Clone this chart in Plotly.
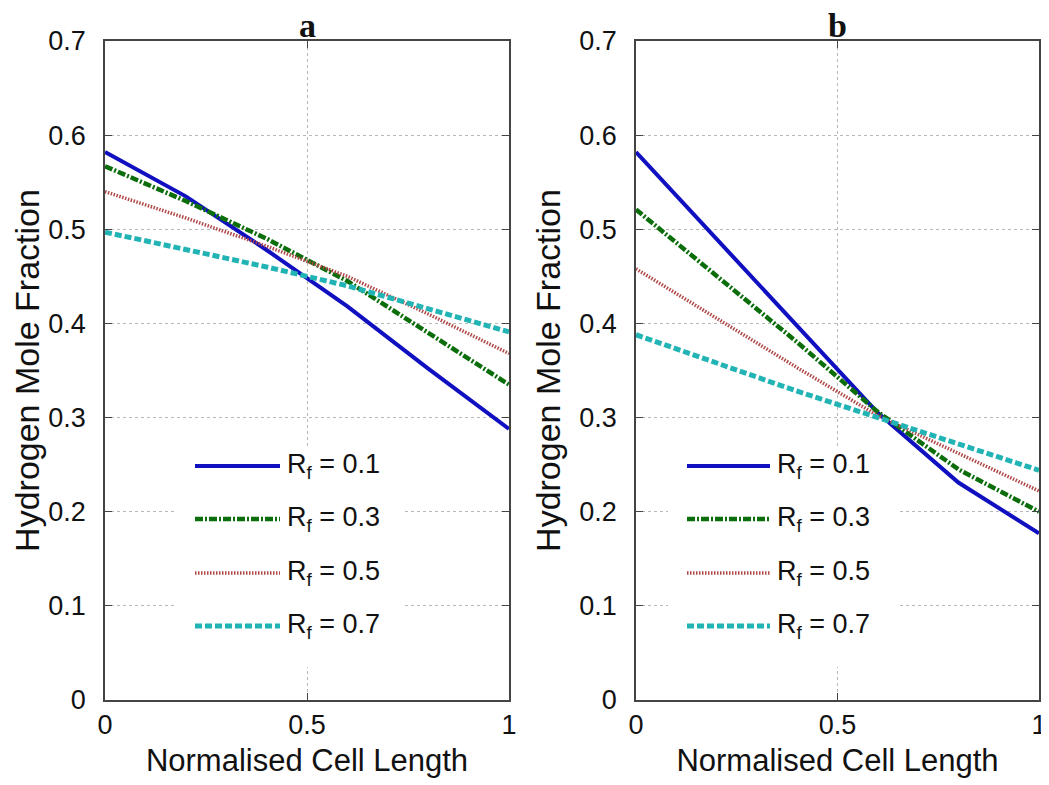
import plotly.graph_objects as go

# normalised cell length sample points
x_pos = [0, 0.2, 0.4, 0.6, 0.8, 1.0]

rf_values = ["0.1", "0.3", "0.5", "0.7"]

# panel a: hydrogen mole fraction
a_rf01 = [0.582, 0.535, 0.478, 0.418, 0.352, 0.288]
a_rf03 = [0.567, 0.530, 0.490, 0.445, 0.390, 0.335]
a_rf05 = [0.540, 0.512, 0.482, 0.450, 0.410, 0.368]
a_rf07 = [0.497, 0.479, 0.460, 0.440, 0.416, 0.391]

# panel b: hydrogen mole fraction
b_rf01 = [0.582, 0.490, 0.398, 0.305, 0.231, 0.177]
b_rf03 = [0.521, 0.451, 0.380, 0.306, 0.245, 0.200]
b_rf05 = [0.458, 0.405, 0.353, 0.302, 0.262, 0.222]
b_rf07 = [0.388, 0.358, 0.328, 0.300, 0.272, 0.244]

y_ticks = [0, 0.1, 0.2, 0.3, 0.4, 0.5, 0.6, 0.7]
x_ticks = [0, 0.5, 1]

styles = [
    dict(color="#1010c0", width=4, dash="solid"),
    dict(color="#0b6e0b", width=4.5, dash="8px,2px,2px,2px"),
    dict(color="#b04848", width=3.5, dash="1.5px,1.5px"),
    dict(color="#22b4b4", width=5, dash="7px,3px"),
]

# page body has an 8px margin, so the figure sits 8px in from the window edge
OFF = 8
W, H = 1049 - OFF, 785 - OFF


def px(v):
    return (v - OFF) / W


def py(v):
    return 1 - (v - OFF) / H


fig = go.Figure()

panels = [("x", "y", [a_rf01, a_rf03, a_rf05, a_rf07]),
          ("x2", "y2", [b_rf01, b_rf03, b_rf05, b_rf07])]
for xa, ya, series in panels:
    for vals, st, rf in zip(series, styles, rf_values):
        fig.add_trace(go.Scatter(
            x=x_pos, y=vals, mode="lines", xaxis=xa, yaxis=ya,
            line=st, name="R<sub>f</sub> = " + rf, showlegend=False,
        ))

axis_common = dict(
    showline=True, linecolor="#444", linewidth=1.5, mirror="ticks",
    ticks="inside", ticklen=7, tickcolor="#444", automargin=False,
    showgrid=True, gridcolor="#b8b8b8", griddash="dot", gridwidth=1,
    zeroline=False, tickfont=dict(family="Liberation Sans", size=27, color="#111"),
)
xaxis_style = dict(axis_common, range=[0, 1], tickvals=x_ticks, ticktext=["0", "0.5", "1"],
                   title=dict(text="Normalised Cell Length", standoff=10,
                              font=dict(family="Liberation Sans", size=31, color="#111")))
yaxis_style = dict(axis_common, range=[0, 0.7], tickvals=y_ticks,
                   ticktext=["0", "0.1", "0.2", "0.3", "0.4", "0.5", "0.6", "0.7"],
                   ticklabelstandoff=12,
                   title=dict(text="Hydrogen Mole Fraction", standoff=8,
                              font=dict(family="Liberation Sans", size=34, color="#111")))

ydom = [py(700), py(41)]
fig.update_layout(
    width=W, height=H, margin=dict(l=0, r=0, t=0, b=0, autoexpand=False),
    paper_bgcolor="white", plot_bgcolor="white",
    xaxis=dict(xaxis_style, domain=[px(105), px(509)], anchor="y"),
    yaxis=dict(yaxis_style, domain=ydom, anchor="x"),
    xaxis2=dict(xaxis_style, domain=[px(636), px(1039)], anchor="y2"),
    yaxis2=dict(yaxis_style, domain=ydom, anchor="x2"),
)

# panel letters
for letter, cx in [("a", (105 + 509) / 2), ("b", (636 + 1039) / 2)]:
    fig.add_annotation(x=px(cx), y=py(25), xref="paper", yref="paper",
                       text="<b>" + letter + "</b>", showarrow=False,
                       xanchor="center", yanchor="middle",
                       font=dict(family="Liberation Serif", size=34, color="#111"))

# legends drawn as boxes with long key lines
legend_boxes = [(177, 405, 195, 280), (668, 897, 687, 770)]
row_y = [466, 519, 573, 626]
for bx0, bx1, lx0, lx1 in legend_boxes:
    fig.add_shape(type="rect", xref="paper", yref="paper",
                  x0=px(bx0), x1=px(bx1), y0=py(667), y1=py(447),
                  fillcolor="white", line=dict(width=0), layer="above")
    for ry, st, rf in zip(row_y, styles, rf_values):
        fig.add_shape(type="line", xref="paper", yref="paper",
                      x0=px(lx0), x1=px(lx1), y0=py(ry), y1=py(ry),
                      line=st, layer="above")
        fig.add_annotation(x=px(lx1 + 5), y=py(ry), xref="paper", yref="paper",
                           text="R<sub>f</sub> = " + rf, showarrow=False,
                           xanchor="left", yanchor="middle",
                           font=dict(family="Liberation Sans", size=27, color="#111"))

fig.write_html("out.html")
